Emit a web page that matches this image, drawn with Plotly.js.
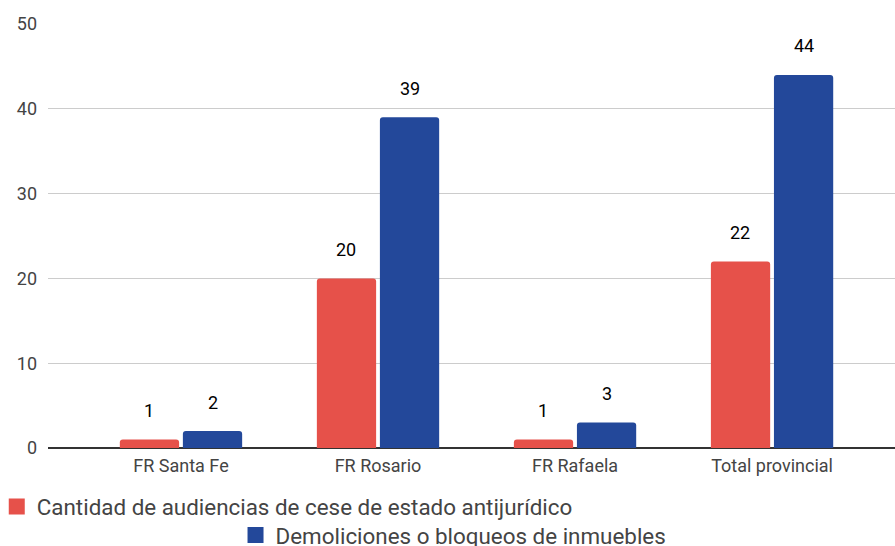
<!DOCTYPE html>
<html><head><meta charset="utf-8">
<script src="https://cdn.plot.ly/plotly-3.0.1.min.js"></script>
<style>body{margin:0;padding:0;background:#fff}#chart{width:895px;height:546px}</style>
</head><body><div id="chart"></div>
<script>
const categories = ["FR Santa Fe", "FR Rosario", "FR Rafaela", "Total provincial"];
const audiencias = [1, 20, 1, 22];
const demoliciones = [2, 39, 3, 44];
const seriesNames = ["Cantidad de audiencias de cese de estado antijurídico", "Demoliciones o bloqueos de inmuebles"];
const yTicks = [0, 10, 20, 30, 40, 50];

const RED = "#e6514a", BLUE = "#23489a";
const font = "Roboto, 'Noto Sans', sans-serif";

const traces = [
  {type: "bar", x: categories, y: audiencias, marker: {color: RED, line: {width: 0}}, showlegend: false, hoverinfo: "none"},
  {type: "bar", x: categories, y: demoliciones, marker: {color: BLUE, line: {width: 0}}, showlegend: false, hoverinfo: "none"},
  {type: "scatter", mode: "markers", x: [null], y: [null], name: seriesNames[0], marker: {symbol: "square", size: 18, color: RED}, legend: "legend"},
  {type: "scatter", mode: "markers", x: [null], y: [null], name: seriesNames[1], marker: {symbol: "square", size: 18, color: BLUE}, legend: "legend2"}
];

const annotations = [];
categories.forEach((c, i) => {
  annotations.push({x: c, y: audiencias[i], text: String(audiencias[i]), showarrow: false, xshift: -32, yshift: 29, font: {family: font, size: 18, color: "#000"}});
  annotations.push({x: c, y: demoliciones[i], text: String(demoliciones[i]), showarrow: false, xshift: 32, yshift: 29, font: {family: font, size: 18, color: "#000"}});
});

const layout = {
  width: 895, height: 546,
  margin: {l: 48, r: 0, t: 24, b: 98, pad: 0, autoexpand: false},
  paper_bgcolor: "#fff", plot_bgcolor: "#fff",
  font: {family: font, size: 18, color: "#444"},
  barmode: "group", bargap: 0.36, bargroupgap: 0.06,
  barcornerradius: 3,
  xaxis: {type: "category", range: [-0.675, 3.624], showgrid: false, zeroline: false, showline: false, ticks: "", ticklabelstandoff: 5, tickfont: {size: 18, color: "#444"}, fixedrange: true, automargin: false},
  yaxis: {range: [0, 50], tickvals: yTicks, showgrid: true, gridcolor: "#cccccc", gridwidth: 1, zeroline: true, zerolinecolor: "#333", zerolinewidth: 1.5, ticks: "", ticklabelstandoff: 10, tickfont: {size: 18, color: "#444"}, fixedrange: true, automargin: false},
  annotations: annotations,
  legend: {orientation: "h", x: -0.0605, xanchor: "left", y: -0.139, yanchor: "middle", bgcolor: "rgba(0,0,0,0)", font: {family: font, size: 22.4, color: "#444"}, itemclick: false},
  legend2: {orientation: "h", x: 0.2214, xanchor: "left", y: -0.206, yanchor: "middle", bgcolor: "rgba(0,0,0,0)", font: {family: font, size: 22.4, color: "#444"}, itemclick: false},
  showlegend: true
};

Plotly.newPlot("chart", traces, layout, {displayModeBar: false, staticPlot: true});
</script></body></html>
